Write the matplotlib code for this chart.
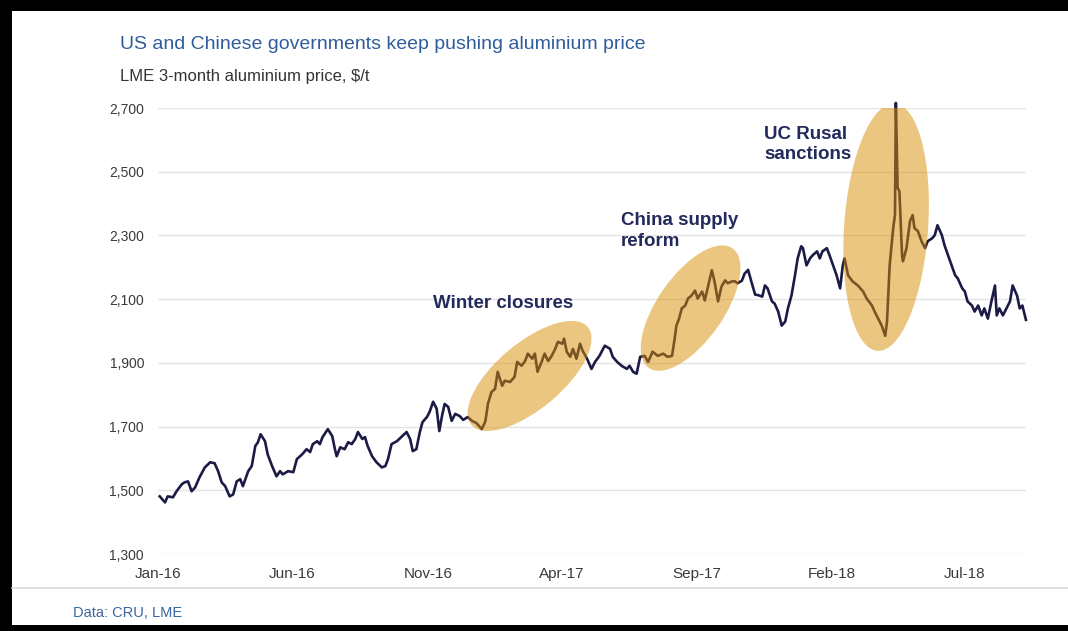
import numpy as np
import pandas as pd
import matplotlib
matplotlib.use("Agg")
import matplotlib.pyplot as plt
import matplotlib.dates as mdates
from matplotlib.patches import Ellipse, Rectangle
from matplotlib.lines import Line2D
from matplotlib.transforms import ScaledTranslation
from matplotlib.ticker import FuncFormatter

plt.rcParams['font.family'] = ['Liberation Sans', 'DejaVu Sans']

# LME 3-month aluminium, $/t
dates = [
    "2016-01-03", "2016-01-09", "2016-01-12", "2016-01-18", "2016-01-22", "2016-01-28",
    "2016-01-31", "2016-02-04", "2016-02-08", "2016-02-12", "2016-02-17", "2016-02-23",
    "2016-02-29", "2016-03-05", "2016-03-09", "2016-03-13", "2016-03-17", "2016-03-22",
    "2016-03-26", "2016-03-30", "2016-04-03", "2016-04-06", "2016-04-12", "2016-04-16",
    "2016-04-20", "2016-04-23", "2016-04-26", "2016-05-01", "2016-05-04", "2016-05-09",
    "2016-05-14", "2016-05-18", "2016-05-21", "2016-05-27", "2016-06-02", "2016-06-06",
    "2016-06-12", "2016-06-17", "2016-06-21", "2016-06-24", "2016-06-29", "2016-07-02",
    "2016-07-05", "2016-07-11", "2016-07-16", "2016-07-19", "2016-07-21", "2016-07-25",
    "2016-07-30", "2016-08-03", "2016-08-07", "2016-08-11", "2016-08-14", "2016-08-19",
    "2016-08-22", "2016-08-25", "2016-08-30", "2016-09-04", "2016-09-10", "2016-09-14",
    "2016-09-17", "2016-09-21", "2016-09-27", "2016-10-03", "2016-10-08", "2016-10-12",
    "2016-10-15", "2016-10-19", "2016-10-23", "2016-10-26", "2016-10-31", "2016-11-03",
    "2016-11-07", "2016-11-11", "2016-11-14", "2016-11-17", "2016-11-20", "2016-11-24",
    "2016-11-28", "2016-12-02", "2016-12-07", "2016-12-11", "2016-12-16", "2016-12-21",
    "2016-12-26", "2017-01-01", "2017-01-05", "2017-01-08", "2017-01-12", "2017-01-16",
    "2017-01-19", "2017-01-24", "2017-01-27", "2017-02-02", "2017-02-07", "2017-02-10",
    "2017-02-15", "2017-02-19", "2017-02-22", "2017-02-27", "2017-03-02", "2017-03-05",
    "2017-03-10", "2017-03-13", "2017-03-17", "2017-03-21", "2017-03-25", "2017-03-28",
    "2017-04-02", "2017-04-04", "2017-04-07", "2017-04-11", "2017-04-14", "2017-04-18",
    "2017-04-22", "2017-04-25", "2017-04-30", "2017-05-05", "2017-05-09", "2017-05-14",
    "2017-05-20", "2017-05-26", "2017-05-29", "2017-06-03", "2017-06-08", "2017-06-14",
    "2017-06-17", "2017-06-21", "2017-06-25", "2017-06-29", "2017-07-04", "2017-07-08",
    "2017-07-13", "2017-07-19", "2017-07-25", "2017-07-30", "2017-08-04", "2017-08-07",
    "2017-08-09", "2017-08-12", "2017-08-15", "2017-08-19", "2017-08-22", "2017-08-26",
    "2017-08-30", "2017-09-02", "2017-09-07", "2017-09-10", "2017-09-14", "2017-09-18",
    "2017-09-21", "2017-09-25", "2017-09-29", "2017-10-03", "2017-10-06", "2017-10-11",
    "2017-10-14", "2017-10-17", "2017-10-22", "2017-10-25", "2017-10-29", "2017-11-02",
    "2017-11-06", "2017-11-09", "2017-11-14", "2017-11-17", "2017-11-20", "2017-11-25",
    "2017-11-28", "2017-12-02", "2017-12-06", "2017-12-10", "2017-12-13", "2017-12-17",
    "2017-12-21", "2017-12-24", "2017-12-28", "2017-12-30", "2018-01-03", "2018-01-07",
    "2018-01-10", "2018-01-15", "2018-01-18", "2018-01-21", "2018-01-26", "2018-01-29",
    "2018-02-02", "2018-02-06", "2018-02-10", "2018-02-13", "2018-02-15", "2018-02-19",
    "2018-02-24", "2018-03-02", "2018-03-08", "2018-03-12", "2018-03-18", "2018-03-21",
    "2018-03-25", "2018-03-29", "2018-04-02", "2018-04-04", "2018-04-07", "2018-04-11",
    "2018-04-13", "2018-04-14", "2018-04-16", "2018-04-18", "2018-04-21", "2018-04-22",
    "2018-04-26", "2018-04-30", "2018-05-03", "2018-05-05", "2018-05-09", "2018-05-13",
    "2018-05-17", "2018-05-20", "2018-05-25", "2018-05-28", "2018-05-31", "2018-06-05",
    "2018-06-08", "2018-06-12", "2018-06-16", "2018-06-20", "2018-06-23", "2018-06-28",
    "2018-07-01", "2018-07-04", "2018-07-09", "2018-07-12", "2018-07-16", "2018-07-20",
    "2018-07-23", "2018-07-27", "2018-07-31", "2018-08-04", "2018-08-06", "2018-08-09",
    "2018-08-13", "2018-08-17", "2018-08-21", "2018-08-24", "2018-08-29", "2018-09-01",
    "2018-09-04", "2018-09-08",
]
prices = [
    1481, 1462, 1481, 1478, 1497, 1519,
    1525, 1528, 1497, 1509, 1541, 1572,
    1588, 1585, 1560, 1525, 1513, 1481,
    1487, 1528, 1535, 1513, 1560, 1576,
    1639, 1651, 1676, 1654, 1613, 1576,
    1544, 1560, 1550, 1560, 1557, 1598,
    1613, 1629, 1620, 1645, 1654, 1645,
    1667, 1692, 1670, 1629, 1607, 1635,
    1629, 1651, 1645, 1661, 1683, 1661,
    1667, 1639, 1607, 1588, 1572, 1576,
    1598, 1645, 1654, 1670, 1683, 1661,
    1623, 1629, 1683, 1714, 1730, 1746,
    1778, 1756, 1686, 1733, 1771, 1762,
    1718, 1740, 1733, 1721, 1730, 1718,
    1711, 1692, 1716, 1772, 1809, 1818,
    1872, 1828, 1844, 1840, 1856, 1903,
    1891, 1906, 1929, 1913, 1929, 1872,
    1906, 1929, 1906, 1922, 1944, 1966,
    1960, 1976, 1935, 1919, 1944, 1913,
    1960, 1938, 1913, 1881, 1903, 1922,
    1954, 1944, 1919, 1903, 1891, 1881,
    1891, 1872, 1866, 1919, 1922, 1903,
    1935, 1922, 1929, 1919, 1922, 1976,
    2017, 2039, 2071, 2080, 2102, 2111,
    2127, 2102, 2124, 2096, 2143, 2191,
    2156, 2093, 2140, 2159, 2150, 2156,
    2156, 2150, 2158, 2180, 2192, 2152,
    2114, 2113, 2108, 2143, 2134, 2093,
    2086, 2061, 2017, 2030, 2071, 2111,
    2175, 2228, 2266, 2260, 2206, 2228,
    2238, 2250, 2228, 2250, 2260, 2238,
    2206, 2175, 2134, 2206, 2228, 2175,
    2156, 2143, 2124, 2102, 2080, 2061,
    2039, 2017, 1985, 2030, 2206, 2323,
    2364, 2716, 2449, 2439, 2238, 2219,
    2260, 2345, 2364, 2323, 2313, 2282,
    2260, 2282, 2291, 2301, 2332, 2301,
    2269, 2238, 2206, 2175, 2165, 2134,
    2124, 2093, 2080, 2061, 2080, 2049,
    2071, 2039, 2093, 2143, 2049, 2071,
    2049, 2071, 2093, 2143, 2111, 2071,
    2080, 2035,
]

y_ticks = [1300, 1500, 1700, 1900, 2100, 2300, 2500, 2700]
x_ticks = ["2016-01-01", "2016-06-01", "2016-11-01", "2017-04-01",
           "2017-09-01", "2018-02-01", "2018-07-01"]

navy = "#1b1b45"
gold = "#d98f05"
label_navy = "#232a5c"

fig = plt.figure(figsize=(10.68, 6.31), dpi=100)
fig.patch.set_facecolor("white")
ax = fig.add_axes([0.1479, 0.1220, 0.8127, 0.7068])

t = pd.to_datetime(dates)
ax.plot(t, prices, color=navy, lw=1.9, zorder=2, solid_joinstyle="round",
        clip_on=False)

ax.set_ylim(1300, 2700)
ax.set_xlim(pd.Timestamp("2016-01-01"), pd.Timestamp("2018-09-08"))
ax.set_yticks(y_ticks)
ax.yaxis.set_major_formatter(FuncFormatter(lambda v, p: f"{int(v):,}"))
ax.set_xticks(pd.to_datetime(x_ticks))
ax.xaxis.set_major_formatter(mdates.DateFormatter("%b-%y"))
ax.grid(axis="y", color="#e4e4e4", lw=1.0, zorder=0)
ax.set_axisbelow(True)
for s in ax.spines.values():
    s.set_visible(False)
ax.tick_params(axis="both", length=0, labelcolor="#3a3a3a")
ax.tick_params(axis="y", pad=10, labelsize=10)
ax.tick_params(axis="x", pad=9, labelsize=11)

# highlight ellipses, sized in inches around a data-space centre
def highlight(day, price, w, h, angle):
    cx = mdates.date2num(pd.Timestamp(day))
    tr = fig.dpi_scale_trans + ScaledTranslation(cx, price, ax.transData)
    e = Ellipse((0, 0), w, h, angle=angle, transform=tr,
                facecolor=gold, edgecolor="none", alpha=0.5, zorder=3)
    ax.add_artist(e)

highlight("2017-02-24", 1859, 1.52, 0.66, 40)
highlight("2017-08-25", 2072, 1.46, 0.66, 55)
highlight("2018-04-03", 2326, 2.48, 0.84, 86)

txt = dict(color=label_navy, fontsize=13.5, fontweight="bold",
           ha="left", va="center", linespacing=1.25, zorder=4)
ax.text(pd.Timestamp("2016-11-07"), 2085, "Winter closures", **txt)
ax.text(pd.Timestamp("2017-06-07"), 2314, "China supply\nreform", **txt)
ax.text(pd.Timestamp("2017-11-16"), 2585, "UC Rusal\nsanctions", **txt)

fig.text(0.1124, 0.9287, "US and Chinese governments keep pushing aluminium price",
         color="#2f5d9c", fontsize=14, ha="left", va="center")
fig.text(0.1124, 0.8795, "LME 3-month aluminium price, $/t",
         color="#333333", fontsize=12, ha="left", va="center")
fig.text(0.0684, 0.0285, "Data: CRU, LME", color="#3b64a0",
         fontsize=10.5, ha="left", va="center")

# footer rule and frame
fig.add_artist(Line2D([12 / 1068, 1.0], [1 - 588 / 631] * 2,
                      color="#d9d9d9", lw=1.2))
fig.add_artist(Rectangle((0, 0), 12 / 1068, 1, transform=fig.transFigure,
                         facecolor="black", edgecolor="none"))
fig.add_artist(Rectangle((0, 1 - 11 / 631), 1, 11 / 631, transform=fig.transFigure,
                         facecolor="black", edgecolor="none"))
fig.add_artist(Rectangle((0, 0), 1, 6 / 631, transform=fig.transFigure,
                         facecolor="black", edgecolor="none"))

fig.savefig("out.png", dpi=100)
